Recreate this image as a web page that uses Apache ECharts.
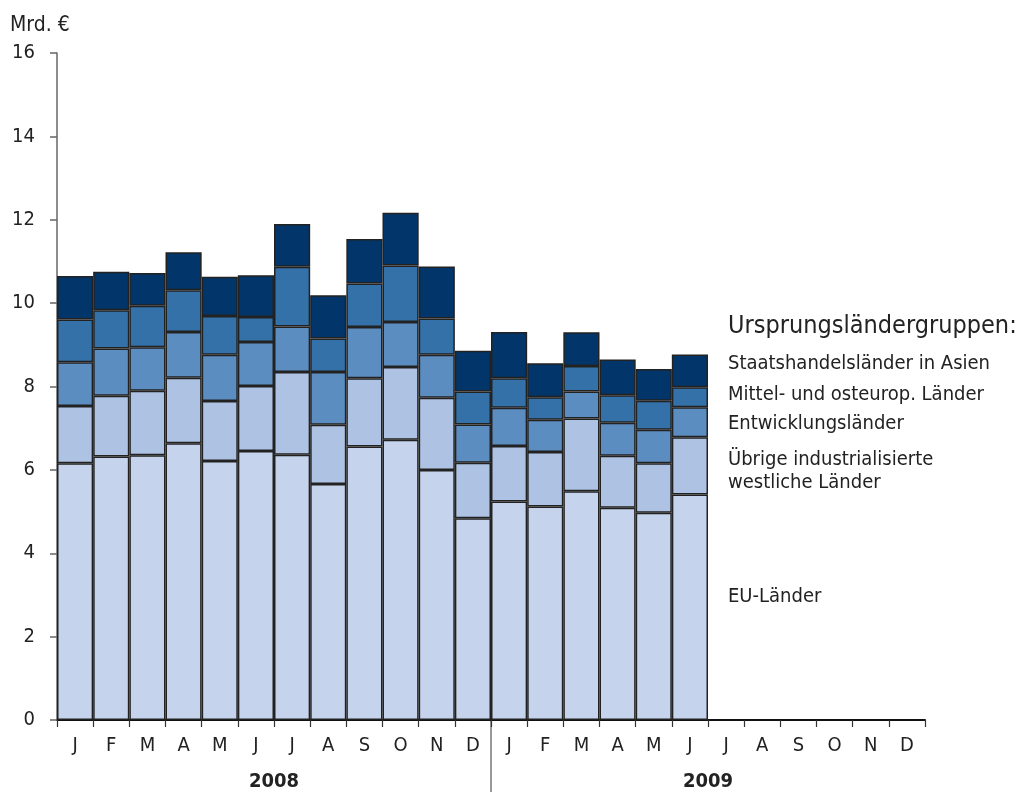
<!DOCTYPE html>
<html>
<head>
<meta charset="utf-8">
<script src="https://cdn.jsdelivr.net/npm/echarts@6/dist/echarts.min.js"></script>
<style>
html,body{margin:0;padding:0;background:#fff;}
#chart{width:1015px;height:792px;}
</style>
</head>
<body>
<div id="chart"></div>
<script>
const months = ['J','F','M','A','M','J','J','A','S','O','N','D','J','F','M','A','M','J','J','A','S','O','N','D'];
const years = ['2008','2009'];
const yTicks = [0,2,4,6,8,10,12,14,16];

const euLaender =      [6.16,6.32,6.35,6.64,6.21,6.45,6.36,5.66,6.56,6.72,6.00,4.84, 5.24,5.12,5.49,5.09,4.97,5.41, null,null,null,null,null,null];
const uebrigeWest =    [1.37,1.46,1.55,1.57,1.44,1.56,1.99,1.42,1.64,1.75,1.73,1.33, 1.33,1.31,1.74,1.25,1.19,1.37, null,null,null,null,null,null];
const entwicklung =    [1.05,1.13,1.04,1.10,1.11,1.06,1.09,1.27,1.23,1.08,1.03,0.92, 0.92,0.77,0.65,0.79,0.80,0.72, null,null,null,null,null,null];
const mittelOst =      [1.03,0.92,1.00,1.00,0.93,0.60,1.43,0.80,1.04,1.35,0.87,0.79, 0.71,0.54,0.61,0.66,0.70,0.48, null,null,null,null,null,null];
const staatshandel =   [1.04,0.92,0.78,0.91,0.94,1.00,1.03,1.04,1.07,1.27,1.25,0.98, 1.11,0.82,0.81,0.86,0.76,0.79, null,null,null,null,null,null];

const seriesNames = ['EU-Länder','Übrige industrialisierte westliche Länder','Entwicklungsländer','Mittel- und osteurop. Länder','Staatshandelsländer in Asien'];
const seriesData = [euLaender, uebrigeWest, entwicklung, mittelOst, staatshandel];
const colors = ['#c5d4ec','#aec3e3','#5c8dc1','#3371a8','#02366a'];

const FONT = "'DejaVu Sans Condensed'";

const chart = echarts.init(document.getElementById('chart'), null, {renderer:'canvas'});

const series = seriesData.map((d,i)=>({
  name: seriesNames[i],
  type: 'bar',
  stack: 'total',
  data: d,
  barCategoryGap: 0,
  itemStyle: {color: colors[i], borderColor: '#222', borderWidth: 1.5},
  emphasis: {disabled: true},
  silent: true,
  animation: false
}));

const option = {
  animation: false,
  grid: {left: 57, right: 90, top: 53, bottom: 72},
  xAxis: [{
    type: 'category',
    data: months,
    boundaryGap: true,
    axisLine: {show: true, lineStyle: {color: '#111', width: 2}},
    axisTick: {show: true, length: 7, lineStyle: {color: '#333', width: 1.2}},
    axisLabel: {color: '#222', fontFamily: FONT, fontSize: 20, margin: 16, interval: 0}
  },{
    type: 'category',
    data: years,
    position: 'bottom',
    offset: 44,
    boundaryGap: true,
    axisLine: {show: false},
    axisTick: {show: false},
    axisLabel: {color: '#222', fontFamily: FONT, fontSize: 20, fontWeight: 'bold', margin: 8}
  }],
  yAxis: {
    type: 'value',
    min: 0, max: 16, interval: 2,
    axisLine: {show: true, lineStyle: {color: '#666', width: 1.5}},
    axisTick: {show: true, length: 7, lineStyle: {color: '#666', width: 1.5}},
    splitLine: {show: false},
    axisLabel: {color: '#222', fontFamily: FONT, fontSize: 20, margin: 22, formatter: v => yTicks.includes(v) ? String(v) : ''}
  },
  series: series
};
chart.setOption(option);

const sepX = (chart.convertToPixel({xAxisIndex:0}, 11) + chart.convertToPixel({xAxisIndex:0}, 12)) / 2;
const y0 = chart.convertToPixel({yAxisIndex:0}, 0);
const legendItems = [
  {text: 'Ursprungsländergruppen:', y: 326, size: 25},
  {text: 'Staatshandelsländer in Asien', y: 364, size: 20},
  {text: 'Mittel- und osteurop. Länder', y: 395, size: 20},
  {text: 'Entwicklungsländer', y: 424, size: 20},
  {text: 'Übrige industrialisierte\nwestliche Länder', y: 471, size: 20},
  {text: 'EU-Länder', y: 597, size: 20}
];
chart.setOption({
  graphic: [
    {type:'line', silent:true, shape:{x1:sepX, y1:y0, x2:sepX, y2:792}, style:{stroke:'#777', lineWidth:1.5}},
    {type:'text', silent:true, left: 10, top: 15, style:{text:'Mrd. €', font: "21px " + FONT, fill:'#222'}}
  ].concat(legendItems.map(it => ({
    type:'text', silent:true, x: 728, y: it.y,
    style:{text: it.text, font: it.size + "px " + FONT, fill:'#222', textVerticalAlign:'middle', lineHeight: 23}
  })))
});
</script>
</body>
</html>
